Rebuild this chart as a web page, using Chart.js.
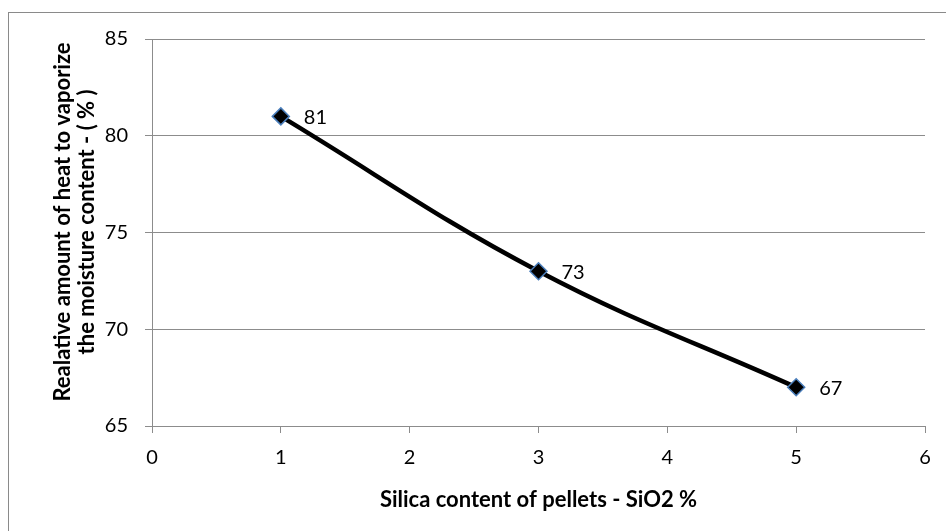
<!DOCTYPE html>
<html>
<head>
<meta charset="utf-8">
<script src="https://cdn.jsdelivr.net/npm/chart.js@4.4.0/dist/chart.umd.min.js"></script>
<style>
  html, body { margin: 0; padding: 0; background: #fff; }
  #wrap { width: 946px; height: 531px; position: relative; }
</style>
</head>
<body>
<div id="wrap"><canvas id="graph1" width="946" height="531"></canvas></div>
<script>
// data
let silica = [1, 3, 5];
let heat = [81, 73, 67];
let pointLabels = ["81", "73", "67"];
let xTitle = "Silica content of pellets - SiO2 %";
let yTitle = ["Realative amount of heat to vaporize", "the moisture content - ( % )"];

let gridColor = "#8c8c8c";
let fontName = "Lato, 'Liberation Sans', sans-serif";

let points = [];
for (let i = 0; i < silica.length; i++) {
    points.push({x: silica[i], y: heat[i]});
}

// outer frame, y title and value labels next to each diamond
const extras = {
    id: "extras",
    beforeDraw(chart) {
        let c = chart.ctx;
        c.save();
        c.strokeStyle = "#8a8a8a";
        c.lineWidth = 1;
        c.strokeRect(8.5, 12.5, 960, 560);
        c.restore();
    },
    afterDraw(chart) {
        let c = chart.ctx;
        c.save();
        c.font = "bold 22px " + fontName;
        c.fillStyle = "#000";
        c.textAlign = "center";
        c.textBaseline = "middle";
        c.translate(63, 222);
        c.rotate(-Math.PI / 2);
        yTitle.forEach((line, i) => c.fillText(line, 0, i * 24));
        c.restore();
    },
    afterDatasetsDraw(chart) {
        let c = chart.ctx;
        let meta = chart.getDatasetMeta(0);
        c.save();
        c.font = "20px " + fontName;
        c.fillStyle = "#000";
        c.textBaseline = "middle";
        c.textAlign = "left";
        meta.data.forEach((p, i) => {
            c.fillText(pointLabels[i], p.x + 23, p.y + 1);
        });
        c.restore();
    }
};

let ctx = document.getElementById("graph1").getContext("2d");
let chart = new Chart(ctx, {
    type: "scatter",
    data: {
        datasets: [{
            data: points,
            showLine: true,
            borderColor: "#000",
            borderWidth: 4.5,
            tension: 0.4,
            pointStyle: "rectRot",
            pointRadius: 8.5,
            pointHoverRadius: 8.5,
            pointBackgroundColor: "#000",
            pointBorderColor: "#4a7ebb",
            pointBorderWidth: 1.5
        }]
    },
    options: {
        responsive: false,
        animation: false,
        events: [],
        layout: {padding: {top: 39, right: 21, bottom: 0, left: 0}},
        plugins: {legend: {display: false}, tooltip: {enabled: false}},
        scales: {
            x: {
                type: "linear",
                min: 0, max: 6,
                ticks: {stepSize: 1, color: "#000", padding: 13, font: {family: fontName, size: 20}},
                grid: {drawOnChartArea: false, drawTicks: true, tickLength: 7, color: gridColor},
                border: {color: gridColor},
                title: {display: true, text: xTitle, color: "#000", padding: {top: 0, bottom: 18},
                        font: {family: fontName, size: 22, weight: "bold"}},
                afterFit(scale) { scale.height = 105; }
            },
            y: {
                min: 65, max: 85,
                ticks: {stepSize: 5, color: "#000", padding: 17, font: {family: fontName, size: 20}},
                grid: {tickLength: 7, color: gridColor},
                border: {color: gridColor},
                afterFit(scale) { scale.width = 152; }
            }
        }
    },
    plugins: [extras]
});
</script>
</body>
</html>
